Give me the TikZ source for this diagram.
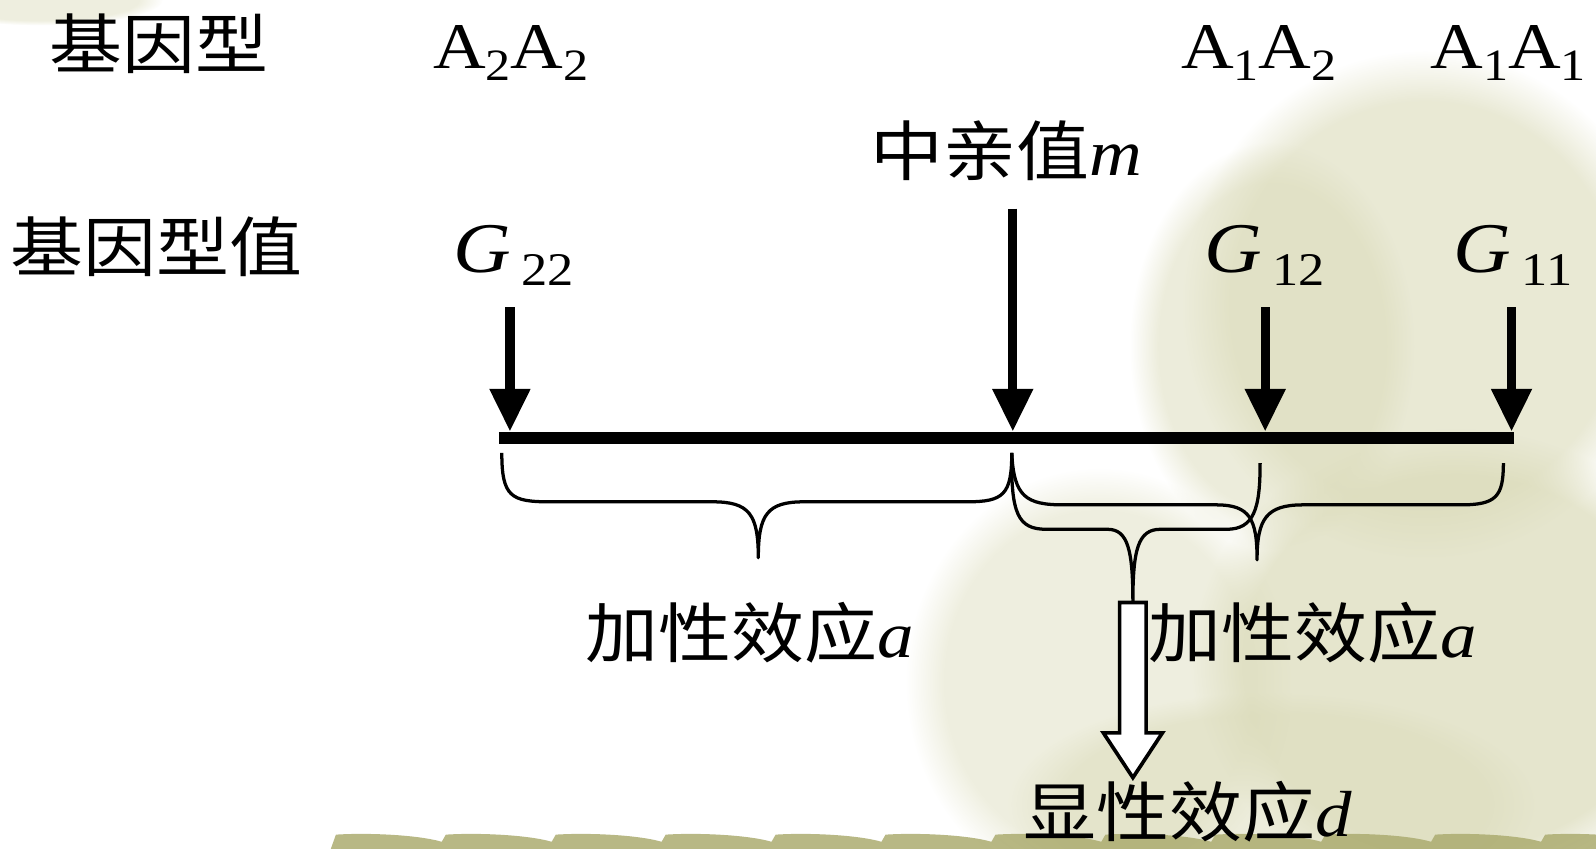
\documentclass[tikz,border=0pt]{standalone}
\usepackage{fontspec}
\setmainfont{Liberation Serif}[FakeStretch=1.12]
\newfontfamily\cjk{Noto Sans CJK SC}[FakeStretch=1.12]
\usetikzlibrary{arrows.meta,fadings}
\definecolor{bgbeige}{RGB}{218,218,184}
\definecolor{bgolive}{RGB}{172,172,112}
\newcommand\lowsub[2]{\raisebox{-6pt}{\fontsize{#1}{#1}\selectfont #2}}
\newcommand\blob[5]{%
  \fill[bgbeige,fill opacity=#5,path fading=circle with fuzzy edge 20 percent] (#1,#2) ellipse [x radius=#3, y radius=#4];}
\begin{document}
\begin{tikzpicture}[x=0.5pt,y=-0.5pt,
  lbl/.style={font=\fontsize{32}{32}\selectfont, inner sep=0pt, anchor=base west},
  downarr/.style={line width=4.5pt, -{Triangle[width=19pt,length=21pt]}},
  axisline/.style={line width=6pt},
  bracestyle/.style={line width=1.6pt, line join=round},
  hollow/.style={line width=1.8pt, fill=white, line join=miter}]
\useasboundingbox (0,0) rectangle (1568,834);
% ---- faint background ----
\begin{scope}
\clip (0,0) rectangle (1568,834);
\blob{1400}{300}{240}{250}{0.6}
\blob{1250}{340}{140}{200}{0.5}
\blob{1430}{650}{260}{230}{0.7}
\blob{1080}{670}{190}{210}{0.45}
\blob{1250}{790}{260}{110}{0.5}
\blob{40}{0}{120}{25}{0.45}
\fill[bgolive,fill opacity=0.85] (325,834) -- (330,820)
  \foreach \i in {0,...,11} { .. controls ({330+\i*108+30},{818}) and ({330+\i*108+80},{820}) .. ({330+\i*108+104},{827}) -- ({330+\i*108+108},{820}) }
  -- (1568,834) -- cycle;
\end{scope}
% ---- labels ----
\node[lbl] (gt)  at (48,67)  {\cjk 基因型};
\node[lbl] (gv)  at (10,267) {\cjk 基因型值};
\node[lbl] (a22) at (425,67)  {A\lowsub{22}{2}A\lowsub{22}{2}};
\node[lbl] (a12) at (1160,67) {A\lowsub{22}{1}A\lowsub{22}{2}};
\node[lbl] (a11) at (1405,67) {A\lowsub{22}{1}A\lowsub{22}{1}};
\node[lbl] (mid) at (855,172) {\cjk 中亲值\rmfamily\itshape m};
\node[lbl] (g22) at (445,268) {{\fontsize{35}{35}\selectfont\itshape G}\hspace{5pt}\lowsub{23}{22}};
\node[lbl] (g12) at (1183,268) {{\fontsize{35}{35}\selectfont\itshape G}\hspace{5pt}\lowsub{23}{12}};
\node[lbl] (g11) at (1428,268) {{\fontsize{35}{35}\selectfont\itshape G}\hspace{5pt}\lowsub{23}{11}};
\node[lbl] (addl) at (575,646)  {\cjk 加性效应\rmfamily\itshape a};
\node[lbl] (addr) at (1128,646) {\cjk 加性效应\rmfamily\itshape a};
\node[lbl] (dom)  at (1005,822) {\cjk 显性效应\rmfamily\itshape d};
% ---- axis ----
\coordinate (L) at (490,430);
\coordinate (R) at (1487,430);
\draw[axisline] (L) -- (R);
\coordinate (s22) at (501,302); \coordinate (p22) at (501,424);
\coordinate (sm)  at (995,205); \coordinate (pm)  at (995,424);
\coordinate (s12) at (1243,302); \coordinate (p12) at (1243,424);
\coordinate (s11) at (1485,302); \coordinate (p11) at (1485,424);
\draw[downarr] (s22) -- (p22);
\draw[downarr] (sm) -- (pm);
\draw[downarr] (s12) -- (p12);
\draw[downarr] (s11) -- (p11);
% ---- braces ----
\coordinate (b0) at (493,445);
\coordinate (b1) at (994,445);
\coordinate (b2) at (1477,455);
\coordinate (b3) at (1238,455);
\coordinate (ta) at (745,548);
\coordinate (tb) at (1235,550);
\coordinate (td) at (1113,592);
\draw[bracestyle] (b0) .. controls (493,488) and (502,493) .. (540,493) -- (700,493)
  .. controls (736,493) and (745,505) .. (ta)
  .. controls (745,505) and (754,493) .. (790,493) -- (950,493)
  .. controls (986,493) and (994,486) .. (b1);
\draw[bracestyle] (b1) .. controls (996,488) and (1008,496) .. (1045,496) -- (1195,496)
  .. controls (1228,496) and (1235,510) .. (tb)
  .. controls (1235,510) and (1244,496) .. (1280,496) -- (1435,496)
  .. controls (1470,496) and (1477,488) .. (b2);
\draw[bracestyle] (b1) .. controls (993,505) and (1000,520) .. (1028,520) -- (1088,520)
  .. controls (1108,520) and (1113,540) .. (td)
  .. controls (1113,540) and (1118,520) .. (1140,520) -- (1205,520)
  .. controls (1232,520) and (1238,500) .. (b3);
% ---- hollow arrow to dominance label ----
\draw[hollow] (td) ++(-13,0) coordinate (h1) -- ++(0,128) -- ++(-16,0) -- ++(29,44) coordinate (htip)
  -- ++(29,-44) -- ++(-16,0) -- ++(0,-128) -- cycle;
\end{tikzpicture}
\end{document}
